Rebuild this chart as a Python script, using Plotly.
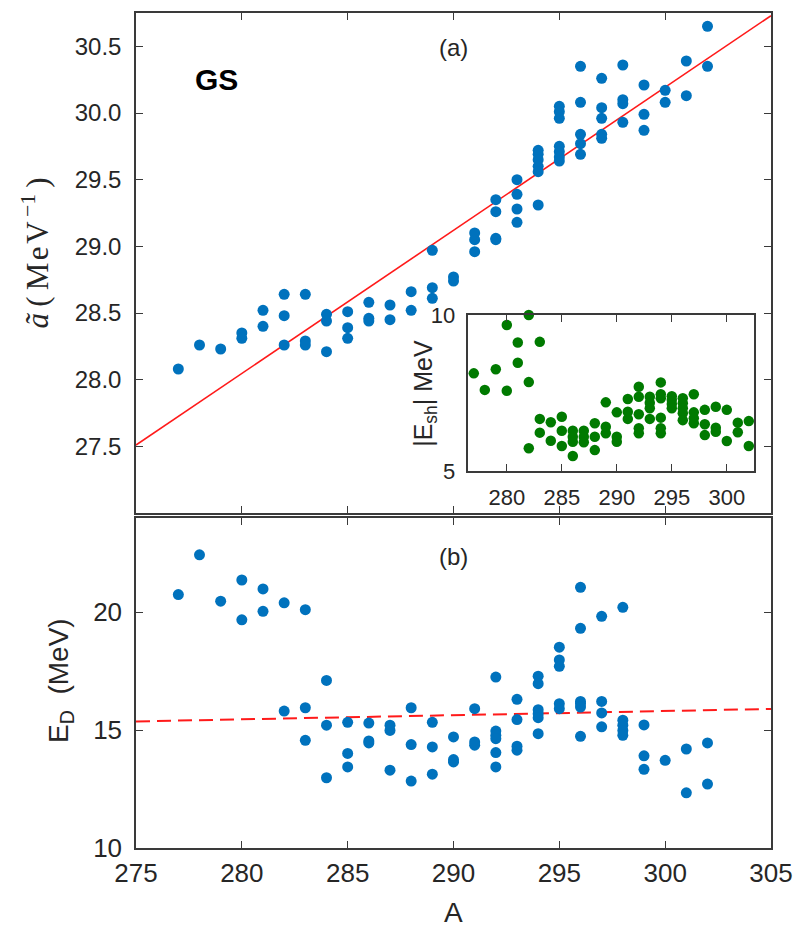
import plotly.graph_objects as go

# ---------------- data ----------------
# panel (a): level density parameter a~ vs mass number A
A_a = [277, 278, 279, 280, 280, 281, 281, 282, 282, 282, 283, 283, 283,
       284, 284, 284, 285, 285, 285, 286, 286, 286, 287, 287, 288, 288,
       289, 289, 289, 290, 290, 291, 291, 291, 292, 292, 292, 292,
       293, 293, 293, 293, 294, 294, 294, 294, 294, 294,
       295, 295, 295, 295, 295, 295, 295, 296, 296, 296, 296, 296,
       297, 297, 297, 297, 297, 298, 298, 298, 298, 299, 299, 299,
       300, 300, 301, 301, 302, 302]
a_tilde = [28.08, 28.26, 28.23, 28.35, 28.31, 28.52, 28.40, 28.64, 28.48, 28.26,
           28.64, 28.29, 28.26, 28.49, 28.44, 28.21, 28.51, 28.39, 28.31,
           28.58, 28.46, 28.44, 28.56, 28.45, 28.66, 28.52, 28.97, 28.69, 28.61,
           28.77, 28.74, 29.10, 29.05, 28.96, 29.35, 29.26, 29.06, 29.05,
           29.50, 29.39, 29.28, 29.18, 29.72, 29.69, 29.65, 29.60, 29.56, 29.31,
           30.05, 30.01, 29.96, 29.75, 29.71, 29.67, 29.64,
           30.35, 30.08, 29.84, 29.77, 29.69, 30.26, 30.04, 29.96, 29.84, 29.81,
           30.36, 30.10, 30.07, 29.93, 30.21, 29.99, 29.87,
           30.17, 30.08, 30.39, 30.13, 30.65, 30.35]
fit_a_A = [275, 305]
fit_a_val = [27.51, 30.73]

# inset: |E_sh| (MeV) vs A
A_sh = [277, 278, 279, 280, 280, 281, 281, 282, 282, 282, 283, 283, 283,
        284, 284, 285, 285, 285, 286, 286, 286, 286, 287, 287, 287,
        288, 288, 288, 289, 289, 289, 290, 290, 290, 291, 291, 291,
        292, 292, 292, 292, 292, 293, 293, 293, 293,
        294, 294, 294, 294, 294, 294, 295, 295, 295, 295,
        296, 296, 296, 296, 296, 297, 297, 297, 297, 298, 298, 298,
        299, 299, 299, 300, 300, 301, 301, 302, 302]
E_sh = [8.13, 7.60, 8.26, 9.68, 7.57, 9.12, 8.47, 10.0, 7.85, 5.73, 9.14, 6.67, 6.23,
        6.56, 5.97, 6.74, 6.29, 5.80, 6.29, 6.10, 5.94, 5.48, 6.29, 6.10, 5.92,
        6.53, 6.10, 5.67, 7.20, 6.42, 6.21, 6.88, 6.10, 5.94, 7.31, 6.90, 6.67,
        7.70, 7.38, 6.82, 6.37, 6.21, 7.38, 7.19, 7.01, 6.67,
        7.84, 7.46, 7.33, 6.71, 6.37, 6.21, 7.40, 7.28, 7.15, 7.01,
        7.33, 7.17, 7.01, 6.85, 6.63, 7.46, 6.88, 6.69, 6.53, 6.96, 6.50, 6.15,
        7.06, 6.39, 6.26, 6.96, 5.96, 6.55, 6.24, 6.60, 5.80]

# panel (b): E_D (MeV) vs A
A_d = [277, 278, 279, 280, 280, 281, 281, 282, 282, 283, 283, 283,
       284, 284, 284, 285, 285, 285, 286, 286, 286, 287, 287, 287,
       288, 288, 288, 289, 289, 289, 290, 290, 290, 291, 291, 291,
       292, 292, 292, 292, 292, 292, 293, 293, 293, 293,
       294, 294, 294, 294, 294, 294, 295, 295, 295, 295, 295,
       296, 296, 296, 296, 296, 296, 297, 297, 297, 297,
       298, 298, 298, 298, 298, 299, 299, 299, 300, 301, 301, 302, 302]
E_D = [20.75, 22.44, 20.47, 21.37, 19.68, 20.99, 20.04, 20.40, 15.81, 20.11, 15.95, 14.57,
       17.11, 15.21, 12.98, 15.33, 14.01, 13.44, 15.30, 14.54, 14.46, 15.21, 14.99, 13.30,
       15.95, 14.39, 12.84, 15.33, 14.29, 13.13, 14.71, 13.75, 13.65, 15.91, 14.50, 14.36,
       17.25, 14.96, 14.78, 14.64, 14.05, 13.44, 16.31, 15.45, 14.32, 14.15,
       17.29, 16.97, 15.87, 15.70, 15.53, 14.85, 18.52, 17.98, 17.71, 16.12, 15.91,
       21.06, 19.32, 16.22, 16.12, 15.98, 14.74, 19.83, 16.22, 15.73, 15.14,
       20.21, 15.42, 15.21, 14.99, 14.78, 15.22, 13.91, 13.34, 13.72, 14.20, 12.34, 14.46, 12.71]
fit_d_A = [275, 305]
fit_d_val = [15.37, 15.90]

x_ticks = [275, 280, 285, 290, 295, 300, 305]
a_ticks = [27.5, 28.0, 28.5, 29.0, 29.5, 30.0, 30.5]
d_ticks = [10, 15, 20]
sh_xticks = [280, 285, 290, 295, 300]
sh_yticks = [5, 10]

# ---------------- styling ----------------
BLUE = "#0072BD"
GREEN = "#007A00"
RED = "#FF1A1A"
AX = "#3a3a3a"
TXT = "#262626"
FONT = "Liberation Sans, Arial, Helvetica, sans-serif"
SERIF = "Liberation Serif, DejaVu Serif, serif"

fig = go.Figure()

fig.add_trace(go.Scatter(x=fit_a_A, y=fit_a_val, mode="lines",
                         line=dict(color=RED, width=1.6),
                         xaxis="x", yaxis="y", showlegend=False))
fig.add_trace(go.Scatter(x=A_a, y=a_tilde, mode="markers",
                         marker=dict(color=BLUE, size=11),
                         xaxis="x", yaxis="y", showlegend=False))

fig.add_trace(go.Scatter(x=fit_d_A, y=fit_d_val, mode="lines",
                         line=dict(color=RED, width=2, dash="14px,7px"),
                         xaxis="x2", yaxis="y2", showlegend=False))
fig.add_trace(go.Scatter(x=A_d, y=E_D, mode="markers",
                         marker=dict(color=BLUE, size=11),
                         xaxis="x2", yaxis="y2", showlegend=False))

fig.add_trace(go.Scatter(x=A_sh, y=E_sh, mode="markers",
                         marker=dict(color=GREEN, size=10.5), cliponaxis=False,
                         xaxis="x3", yaxis="y3", showlegend=False))


def ax(size, **kw):
    d = dict(showline=True, linecolor=AX, linewidth=1.5, mirror="ticks",
             ticks="inside", ticklen=7, tickwidth=1.3, tickcolor=AX,
             showgrid=False, zeroline=False, automargin=False,
             tickfont=dict(family=FONT, size=size, color=TXT))
    d.update(kw)
    return d


fig.update_layout(
    width=794, height=927,
    margin=dict(l=136, r=23, t=13, b=79, autoexpand=False),
    paper_bgcolor="white", plot_bgcolor="white",
    font=dict(family=FONT, color=TXT),
    xaxis=ax(24, domain=[0, 1], range=[275, 305], tickvals=x_ticks,
             showticklabels=False, anchor="y"),
    yaxis=ax(24, domain=[0.4012, 1], range=[27.0, 30.75], tickvals=a_ticks,
             tickformat=".1f", anchor="x", ticklabelstandoff=8),
    xaxis2=ax(26, domain=[0, 1], range=[275, 305], tickvals=x_ticks, anchor="y2",
              ticklabelstandoff=1),
    yaxis2=ax(26, domain=[0, 0.3952], range=[10, 24], tickvals=d_ticks, anchor="x2",
              ticklabelstandoff=7),
    xaxis3=ax(22, domain=[0.5233, 0.9737], range=[276.5, 302.5], tickvals=sh_xticks,
              anchor="y3", ticklabelstandoff=6),
    yaxis3=ax(22, domain=[0.4515, 0.6383], range=[5, 10], tickvals=sh_yticks,
              anchor="x3", ticklabelstandoff=7),
    annotations=[
        # axis titles
        dict(text="<i>ã</i>\u2009(\u2009M\u200ae\u200aV<sup>\u2009−1</sup>\u2009)",
             x=-0.159, y=0.712, xref="paper", yref="paper", textangle=-90,
             showarrow=False, xanchor="center", yanchor="middle",
             font=dict(family=SERIF, size=31, color=TXT)),
        dict(text="E<sub>D</sub>  (MeV)", x=-0.12, y=0.201, xref="paper", yref="paper",
             textangle=-90, showarrow=False, xanchor="center", yanchor="middle",
             font=dict(family=FONT, size=28, color=TXT)),
        dict(text="A", x=0.5, y=-0.077, xref="paper", yref="paper", showarrow=False,
             xanchor="center", yanchor="middle",
             font=dict(family=FONT, size=28, color=TXT)),
        dict(text="|E<sub>sh</sub>| MeV", x=0.455, y=0.545, xref="paper", yref="paper",
             textangle=-90, showarrow=False, xanchor="center", yanchor="middle",
             font=dict(family=FONT, size=25, color=TXT)),
        # panel labels
        dict(text="(a)", x=290, y=30.49, xref="x", yref="y", showarrow=False,
             font=dict(family=FONT, size=24, color=TXT)),
        dict(text="<b>GS</b>", x=278.8, y=30.25, xref="x", yref="y", showarrow=False,
             font=dict(family=FONT, size=30, color="black")),
        dict(text="(b)", x=290, y=22.36, xref="x2", yref="y2", showarrow=False,
             font=dict(family=FONT, size=24, color=TXT)),
    ],
)

fig.write_html("out.html")
